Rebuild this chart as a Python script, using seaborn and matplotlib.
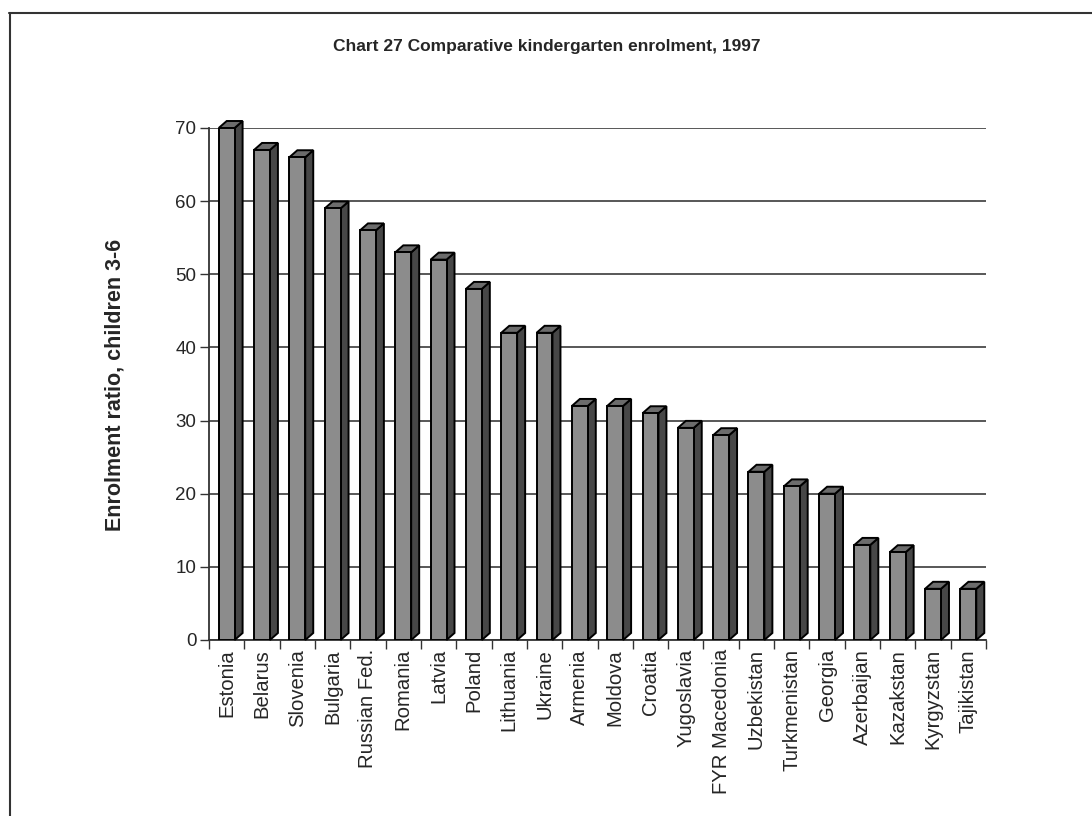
import matplotlib
matplotlib.use("Agg")
import matplotlib.pyplot as plt
from matplotlib.patches import Polygon
from matplotlib.lines import Line2D
import numpy as np
import pandas as pd
import seaborn as sns

# Data
countries = ["Estonia", "Belarus", "Slovenia", "Bulgaria", "Russian Fed.",
             "Romania", "Latvia", "Poland", "Lithuania", "Ukraine", "Armenia",
             "Moldova", "Croatia", "Yugoslavia", "FYR Macedonia", "Uzbekistan",
             "Turkmenistan", "Georgia", "Azerbaijan", "Kazakstan", "Kyrgyzstan",
             "Tajikistan"]
enrolment = [70, 67, 66, 59, 56, 53, 52, 48, 42, 42, 32, 32, 31, 29, 28,
             23, 21, 20, 13, 12, 7, 7]
y_ticks = [0, 10, 20, 30, 40, 50, 60, 70]
title = "Chart 27 Comparative kindergarten enrolment, 1997"
y_label = "Enrolment ratio, children 3-6"

sns.set_style("white")
plt.rcParams["font.family"] = ["Liberation Sans", "DejaVu Sans"]

W, H = 1092, 816
fig = plt.figure(figsize=(W / 100, H / 100), dpi=100)
fig.patch.set_facecolor("white")

# plot area in pixels
left_px, right_px, bottom_px, top_px = 209, 986, 640, 128
ax = fig.add_axes([left_px / W, 1 - bottom_px / H,
                   (right_px - left_px) / W, (bottom_px - top_px) / H])

df = pd.DataFrame({"country": countries, "ratio": enrolment})
sns.barplot(data=df, x="country", y="ratio", color="#8c8c8c", saturation=1,
            width=0.45, edgecolor="black", linewidth=1.4, errorbar=None,
            ax=ax, zorder=3)

n = len(countries)
ax.set_xlim(-0.5, n - 0.5)
ax.set_ylim(y_ticks[0], y_ticks[-1])

# depth of the pseudo-3D boxes, converted from pixels to data units
px_per_x = (right_px - left_px) / n
px_per_y = (bottom_px - top_px) / (y_ticks[-1] - y_ticks[0])
dx = 8 / px_per_x
dy = 7 / px_per_y

for bar in list(ax.patches):
    x0, w, h = bar.get_x(), bar.get_width(), bar.get_height()
    side = Polygon([(x0 + w, 0), (x0 + w + dx, dy), (x0 + w + dx, h + dy),
                    (x0 + w, h)], closed=True, facecolor="#474747",
                   edgecolor="black", linewidth=1.4, zorder=2.6, clip_on=False)
    top = Polygon([(x0, h), (x0 + dx, h + dy), (x0 + w + dx, h + dy),
                   (x0 + w, h)], closed=True, facecolor="#6c6c6c",
                  edgecolor="black", linewidth=1.4, zorder=2.6, clip_on=False)
    ax.add_patch(side)
    ax.add_patch(top)

# gridlines and axes
ax.set_axisbelow(True)
ax.yaxis.grid(True, color="#4a4a4a", linewidth=1.3)
ax.xaxis.grid(False)
for s in ["top", "right"]:
    ax.spines[s].set_visible(False)
for s in ["left", "bottom"]:
    ax.spines[s].set_color("#333333")
    ax.spines[s].set_linewidth(1.3)

ax.set_yticks(y_ticks)
ax.set_yticklabels([str(v) for v in y_ticks])
ax.tick_params(axis="y", left=True, length=6.5, width=1, color="#333333",
               labelsize=13.5, pad=2.5, direction="out")

ax.set_xticks(range(n))
ax.set_xticklabels(countries, rotation=90, ha="center", va="top")
ax.set_xticks(np.arange(-0.5, n, 1), minor=True)
ax.tick_params(axis="x", which="major", bottom=True, length=0, labelsize=14.6,
               pad=6.5)
ax.tick_params(axis="x", which="minor", bottom=True, length=6.5, width=1,
               color="#333333", direction="out")
ax.set_xlabel("")
ax.set_ylabel("")

fig.text(115 / W, 1 - 385 / H, y_label, rotation=90, fontweight="bold",
         fontsize=15.5, ha="center", va="center")
fig.text(547 / W, 1 - 47 / H, title, fontweight="bold", fontsize=12.5,
         ha="center", va="center")

# chart-area frame
fig.add_artist(Line2D([9 / W, 1], [1 - 13 / H, 1 - 13 / H], color="#333333",
                      linewidth=1.5, transform=fig.transFigure))
fig.add_artist(Line2D([9.5 / W, 9.5 / W], [0, 1 - 13 / H], color="#333333",
                      linewidth=1.5, transform=fig.transFigure))

fig.savefig("out.png", dpi=100)
